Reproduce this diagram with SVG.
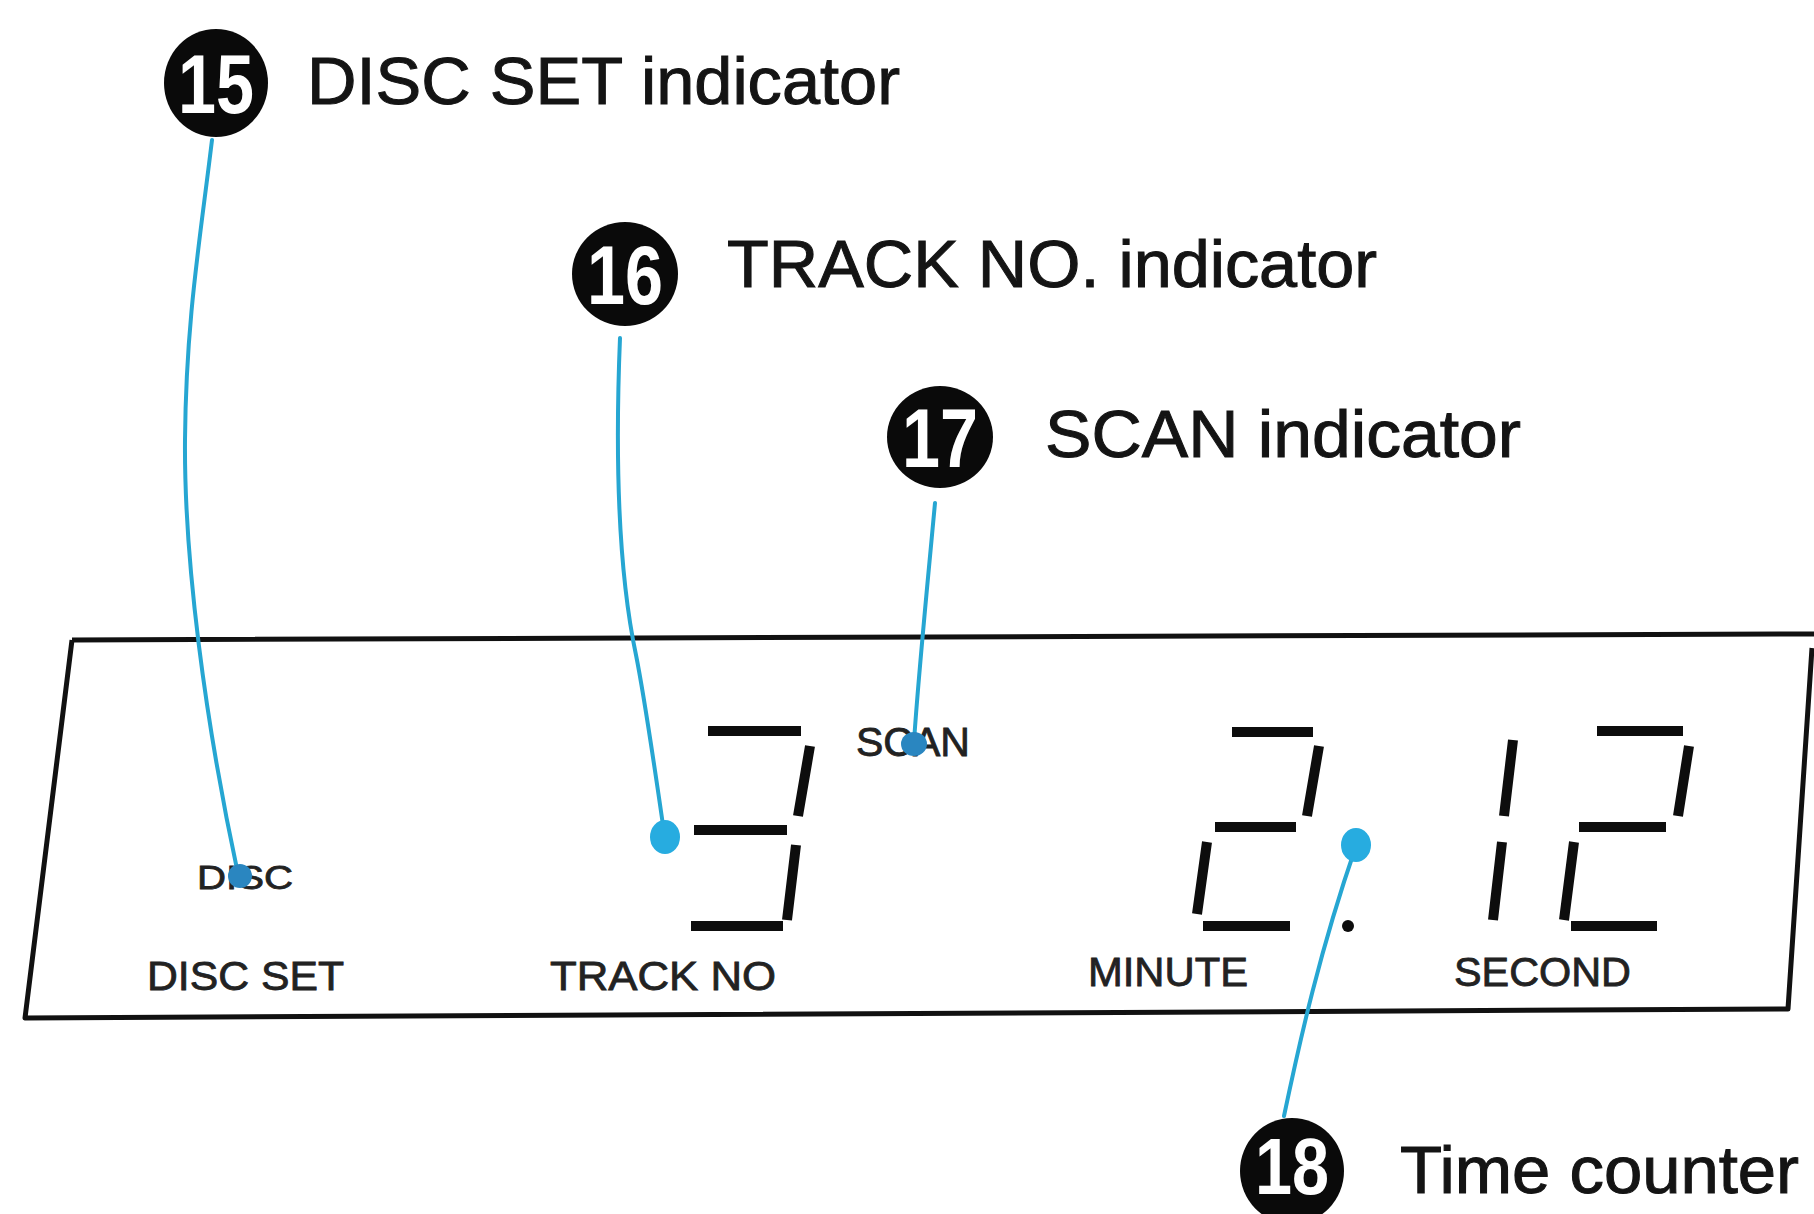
<svg xmlns="http://www.w3.org/2000/svg" width="1814" height="1214" viewBox="0 0 1814 1214">
<style>
.bg{fill:#ffffff}
.badge{fill:#0a0a0a}
.num{font-family:"Liberation Sans",Arial,sans-serif;font-weight:bold;font-size:84px;fill:#ffffff;text-anchor:middle}
.lbl{font-family:"Liberation Sans",Arial,sans-serif;font-size:66px;fill:#141414;stroke:#141414;stroke-width:1}
.lcd{font-family:"Liberation Sans",Arial,sans-serif;font-size:40px;fill:#222222;stroke:#222222;stroke-width:0.8}
.frame{fill:none;stroke:#111111;stroke-width:5;stroke-linejoin:round}
.seg{stroke:#0d0d0d;stroke-width:10;stroke-linecap:butt;fill:none}
.lead{fill:none;stroke:#26a6d2;stroke-width:4;stroke-linecap:round}
.dot{fill:#27ace0}
.dotd{fill:#2a86c0}
</style>
<rect class="bg" x="0" y="0" width="1814" height="1214"/>

<g id="display">
  <path class="frame" d="M72,640 L1814,634 M72,640 L25,1018 L1788,1009 L1812,648"/>
  <text class="lcd" x="197" y="889" textLength="96" lengthAdjust="spacingAndGlyphs" style="font-size:34px">DISC</text>
  <text class="lcd" x="147" y="990" textLength="197" lengthAdjust="spacingAndGlyphs">DISC SET</text>
  <text class="lcd" x="550" y="990" textLength="226" lengthAdjust="spacingAndGlyphs">TRACK NO</text>
  <text class="lcd" x="856" y="756" textLength="114" lengthAdjust="spacingAndGlyphs">SCAN</text>
  <text class="lcd" x="1088" y="986" textLength="160" lengthAdjust="spacingAndGlyphs">MINUTE</text>
  <text class="lcd" x="1454" y="986" textLength="177" lengthAdjust="spacingAndGlyphs">SECOND</text>
  <g id="digit-track-3">
    <path class="seg" d="M708,731 L801,731 M694,830 L787,830 M691,926 L783,926 M810,746 L798,816 M796,845 L787,920"/>
  </g>
  <g id="digit-min-2">
    <path class="seg" d="M1232,732 L1313,732 M1319,746 L1307,816 M1215,827 L1296,827 M1207,842 L1197,914 M1203,926 L1290,926"/>
    <circle cx="1348" cy="926" r="6" fill="#0d0d0d"/>
  </g>
  <g id="digit-sec-1">
    <path class="seg" d="M1513,740 L1504,816 M1502,842 L1493,920"/>
  </g>
  <g id="digit-sec-2">
    <path class="seg" d="M1597,731 L1683,731 M1689,746 L1678,816 M1579,827 L1666,827 M1574,842 L1564,920 M1571,926 L1657,926"/>
  </g>
</g>

<g id="connectors">
  <path class="lead" d="M212,140 C200,240 186,320 185,440 C184,560 205,720 238,874"/>
  <path class="lead" d="M620,338 C615,460 618,570 636,655 C645,700 655,770 664,832"/>
  <path class="lead" d="M935,503 C926,600 918,680 914,742"/>
  <path class="lead" d="M1356,846 C1320,950 1300,1040 1284,1116"/>
</g>

<g id="c15">
  <ellipse class="badge" cx="216" cy="83" rx="52" ry="54"/>
  <text class="num" x="216" y="113" textLength="76" lengthAdjust="spacingAndGlyphs">15</text>
  <text class="lbl" x="307" y="104" textLength="593" lengthAdjust="spacingAndGlyphs">DISC SET indicator</text>
  <circle class="dotd" cx="240" cy="876" r="12"/>
</g>
<g id="c16">
  <ellipse class="badge" cx="625" cy="274" rx="53" ry="52"/>
  <text class="num" x="625" y="304" textLength="76" lengthAdjust="spacingAndGlyphs">16</text>
  <text class="lbl" x="727" y="287" textLength="650" lengthAdjust="spacingAndGlyphs">TRACK NO. indicator</text>
  <ellipse class="dot" cx="665" cy="837" rx="15" ry="17"/>
</g>
<g id="c17">
  <ellipse class="badge" cx="940" cy="437" rx="53" ry="51"/>
  <text class="num" x="940" y="467" textLength="76" lengthAdjust="spacingAndGlyphs">17</text>
  <text class="lbl" x="1045" y="457" textLength="476" lengthAdjust="spacingAndGlyphs">SCAN indicator</text>
  <ellipse class="dotd" cx="914" cy="744" rx="13" ry="12"/>
</g>
<g id="c18">
  <ellipse class="badge" cx="1292" cy="1171" rx="52" ry="53"/>
  <text class="num" x="1292" y="1194" textLength="74" lengthAdjust="spacingAndGlyphs" style="font-size:80px">18</text>
  <text class="lbl" x="1400" y="1193" textLength="399" lengthAdjust="spacingAndGlyphs">Time counter</text>
  <ellipse class="dot" cx="1356" cy="845" rx="15" ry="17"/>
</g>
</svg>
